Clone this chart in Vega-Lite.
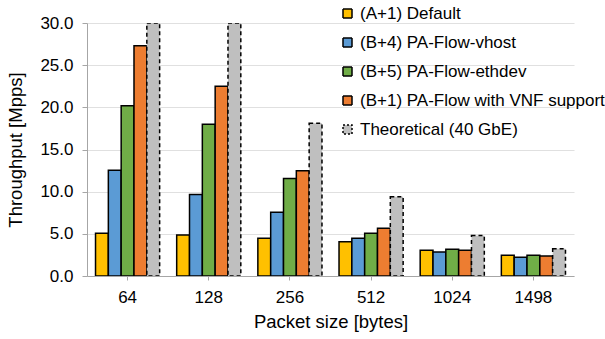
{
  "$schema": "https://vega.github.io/schema/vega-lite/v6.json",
  "width": 487,
  "height": 253,
  "autosize": {"type": "none"},
  "padding": {"left": 87, "top": 23, "right": 31, "bottom": 63},
  "background": "white",
  "config": {
    "font": "Liberation Sans",
    "view": {"stroke": null}
  },
  "data": {
    "values": [
      {"size": "64", "series": "(A+1) Default", "value": 5.07},
      {"size": "64", "series": "(B+4) PA-Flow-vhost", "value": 12.55},
      {"size": "64", "series": "(B+5) PA-Flow-ethdev", "value": 20.2},
      {"size": "64", "series": "(B+1) PA-Flow with VNF support", "value": 27.3},
      {"size": "64", "series": "Theoretical (40 GbE)", "value": 59.5},
      {"size": "128", "series": "(A+1) Default", "value": 4.87},
      {"size": "128", "series": "(B+4) PA-Flow-vhost", "value": 9.66},
      {"size": "128", "series": "(B+5) PA-Flow-ethdev", "value": 18.0},
      {"size": "128", "series": "(B+1) PA-Flow with VNF support", "value": 22.5},
      {"size": "128", "series": "Theoretical (40 GbE)", "value": 33.8},
      {"size": "256", "series": "(A+1) Default", "value": 4.47},
      {"size": "256", "series": "(B+4) PA-Flow-vhost", "value": 7.56},
      {"size": "256", "series": "(B+5) PA-Flow-ethdev", "value": 11.56},
      {"size": "256", "series": "(B+1) PA-Flow with VNF support", "value": 12.47},
      {"size": "256", "series": "Theoretical (40 GbE)", "value": 18.1},
      {"size": "512", "series": "(A+1) Default", "value": 4.05},
      {"size": "512", "series": "(B+4) PA-Flow-vhost", "value": 4.47},
      {"size": "512", "series": "(B+5) PA-Flow-ethdev", "value": 5.07},
      {"size": "512", "series": "(B+1) PA-Flow with VNF support", "value": 5.66},
      {"size": "512", "series": "Theoretical (40 GbE)", "value": 9.4},
      {"size": "1024", "series": "(A+1) Default", "value": 3.05},
      {"size": "1024", "series": "(B+4) PA-Flow-vhost", "value": 2.85},
      {"size": "1024", "series": "(B+5) PA-Flow-ethdev", "value": 3.17},
      {"size": "1024", "series": "(B+1) PA-Flow with VNF support", "value": 3.05},
      {"size": "1024", "series": "Theoretical (40 GbE)", "value": 4.79},
      {"size": "1498", "series": "(A+1) Default", "value": 2.46},
      {"size": "1498", "series": "(B+4) PA-Flow-vhost", "value": 2.22},
      {"size": "1498", "series": "(B+5) PA-Flow-ethdev", "value": 2.46},
      {"size": "1498", "series": "(B+1) PA-Flow with VNF support", "value": 2.37},
      {"size": "1498", "series": "Theoretical (40 GbE)", "value": 3.24}
    ]
  },
  "mark": {"type": "bar", "stroke": "black", "strokeWidth": 1.5, "clip": true},
  "encoding": {
    "x": {
      "field": "size", "type": "nominal",
      "sort": ["64", "128", "256", "512", "1024", "1498"],
      "scale": {"paddingInner": 0.21, "paddingOuter": 0.105},
      "axis": {
        "title": "Packet size [bytes]", "titleFontSize": 18.5, "titleFontWeight": "normal", "titleColor": "#000", "titlePadding": 7,
        "labelAngle": 0, "labelFontSize": 17, "labelColor": "#000", "labelPadding": 9,
        "domainColor": "#a6a6a6", "tickColor": "#a6a6a6", "tickSize": 4
      }
    },
    "xOffset": {
      "field": "series", "type": "nominal",
      "sort": ["(A+1) Default", "(B+4) PA-Flow-vhost", "(B+5) PA-Flow-ethdev", "(B+1) PA-Flow with VNF support", "Theoretical (40 GbE)"],
      "scale": {"paddingInner": 0, "paddingOuter": 0}
    },
    "y": {
      "field": "value", "type": "quantitative",
      "scale": {"domain": [0, 30], "clamp": true, "nice": false},
      "axis": {
        "title": "Throughput [Mpps]", "titleFontSize": 18.5, "titleFontWeight": "normal", "titleColor": "#000", "titlePadding": 14,
        "values": [0, 5, 10, 15, 20, 25, 30], "format": ".1f",
        "labelFontSize": 17, "labelColor": "#000", "labelPadding": 9,
        "gridColor": "#e0e0e0", "gridWidth": 1.2,
        "domainColor": "#a6a6a6", "tickColor": "#a6a6a6", "tickSize": 5
      }
    },
    "color": {
      "field": "series", "type": "nominal",
      "sort": ["(A+1) Default", "(B+4) PA-Flow-vhost", "(B+5) PA-Flow-ethdev", "(B+1) PA-Flow with VNF support", "Theoretical (40 GbE)"],
      "scale": {"range": ["#FFC000", "#5B9BD5", "#70AD47", "#ED7D31", "#BFBFBF"]},
      "legend": {
        "title": null, "orient": "none", "legendX": 252, "legendY": -18,
        "labelFontSize": 17, "labelColor": "#000", "labelLimit": 300, "labelOffset": 4,
        "symbolType": "square", "symbolSize": 81, "symbolStrokeColor": "black", "symbolStrokeWidth": 1.5,
        "rowPadding": 11,
        "encode": {
          "symbols": {
            "update": {
              "strokeDash": {"signal": "datum.label === 'Theoretical (40 GbE)' ? [2, 2] : [1, 0]"}
            }
          }
        }
      }
    },
    "strokeDash": {
      "field": "series", "type": "nominal",
      "sort": ["(A+1) Default", "(B+4) PA-Flow-vhost", "(B+5) PA-Flow-ethdev", "(B+1) PA-Flow with VNF support", "Theoretical (40 GbE)"],
      "scale": {"range": [[1, 0], [1, 0], [1, 0], [1, 0], [4, 3]]},
      "legend": null
    }
  }
}
